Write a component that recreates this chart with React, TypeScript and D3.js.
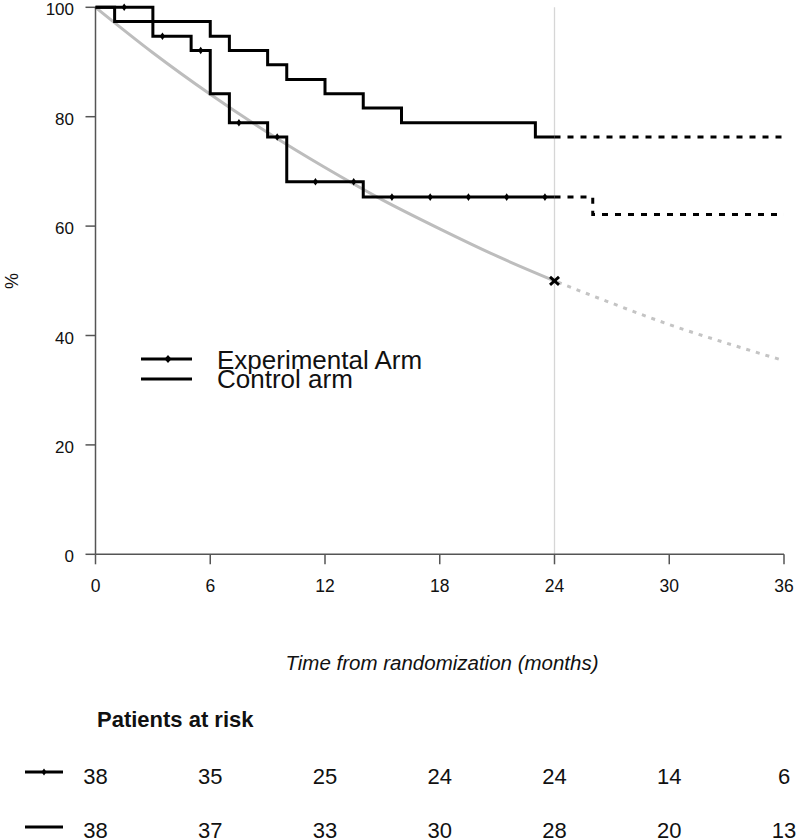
import React from "react";
import * as d3 from "d3";

// ---- Data ----
const xTicks = [0, 6, 12, 18, 24, 30, 36];
const yTicks = [0, 20, 40, 60, 80, 100];

// Control arm KM steps (observed to 24 months)
const controlTimes = [0, 1, 6, 7, 9, 10, 12, 14, 16, 23];
const controlSurv = [100, 97.4, 94.7, 92.1, 89.5, 86.8, 84.2, 81.6, 78.9, 76.3];
// Control arm beyond 24 months (dashed)
const controlExtTimes = [24, 36];
const controlExtSurv = [76.3, 76.3];

// Experimental arm KM steps
const expTimes = [0, 3, 5, 6, 7, 9, 10, 14];
const expSurv = [100, 94.7, 92.1, 84.2, 78.9, 76.3, 68.1, 65.3];
const expExtTimes = [24, 26, 36];
const expExtSurv = [65.3, 62.1, 62.1];
const expCensorTimes = [1.5, 3.5, 5.5, 7.5, 9.5, 11.5, 13.5, 15.5, 17.5, 19.5, 21.5, 23.5];

// Reference (null hypothesis) curve
const refTimes = [0, 3, 6, 9, 12, 15, 18, 21, 24, 27, 30, 33, 36];
const refSurv = [100, 91.7, 84.1, 77.1, 70.7, 64.8, 59.5, 54.5, 50, 45.9, 42.0, 38.6, 35.4];
const refMarkTime = 24;
const refMarkSurv = 50;

// Patients at risk
const riskTimes = [0, 6, 12, 18, 24, 30, 36];
const riskExp = [38, 35, 25, 24, 24, 14, 6];
const riskCtrl = [38, 37, 33, 30, 28, 20, 13];

const legendLabels = ["Experimental Arm", "Control arm"];

const FONT = "'Liberation Sans', Arial, Helvetica, sans-serif";

export default function App() {
  const W = 797;
  const H = 839;
  const x = d3.scaleLinear().domain([0, 36]).range([95.5, 784]);
  const y = d3.scaleLinear().domain([0, 100]).range([554.3, 7.3]);

  const step = d3
    .line<[number, number]>()
    .x((d) => x(d[0]))
    .y((d) => y(d[1]))
    .curve(d3.curveStepAfter);
  const smooth = d3
    .line<[number, number]>()
    .x((d) => x(d[0]))
    .y((d) => y(d[1]))
    .curve(d3.curveMonotoneX);

  const ctrlPts: [number, number][] = controlTimes.map((t, i) => [t, controlSurv[i]]);
  ctrlPts.push([24, controlSurv[controlSurv.length - 1]]);
  const ctrlExt: [number, number][] = controlExtTimes.map((t, i) => [t, controlExtSurv[i]]);

  const expPts: [number, number][] = expTimes.map((t, i) => [t, expSurv[i]]);
  expPts.push([24, expSurv[expSurv.length - 1]]);
  const expExt: [number, number][] = expExtTimes.map((t, i) => [t, expExtSurv[i]]);

  const survAt = (t: number) => {
    let s = expSurv[0];
    for (let i = 0; i < expTimes.length; i++) if (expTimes[i] <= t) s = expSurv[i];
    return s;
  };

  const refSolid: [number, number][] = refTimes
    .map((t, i) => [t, refSurv[i]] as [number, number])
    .filter((d) => d[0] <= 24);
  const refAll: [number, number][] = refTimes.map((t, i) => [t, refSurv[i]] as [number, number]);

  const diamond = (cx: number, cy: number, hw: number, hh: number) =>
    `M${cx},${cy - hh}L${cx + hw},${cy}L${cx},${cy + hh}L${cx - hw},${cy}Z`;

  const mx = x(refMarkTime);
  const my = y(refMarkSurv);

  const axisColor = "#555";

  return (
    <svg
      width={W}
      height={H}
      style={{ position: "absolute", left: 0, top: 0, background: "#fff" }}
      fontFamily={FONT}
    >
      <rect x={0} y={0} width={W} height={H} fill="#fff" />
      {/* vertical reference line at 24 months */}
      <line x1={x(24)} x2={x(24)} y1={y(100)} y2={y(0)} stroke="#d6d6d6" strokeWidth={1.3} />

      {/* reference curve: solid to 24, dotted beyond */}
      <clipPath id="after24">
        <rect x={x(24)} y={0} width={W} height={H} />
      </clipPath>
      <path d={smooth(refSolid) || ""} fill="none" stroke="#bdbdbd" strokeWidth={3} />
      <path
        d={smooth(refAll) || ""}
        fill="none"
        stroke="#c4c4c4"
        strokeWidth={3}
        strokeDasharray="4 6"
        clipPath="url(#after24)"
      />

      {/* axes */}
      <line x1={x(0)} x2={x(36)} y1={y(0)} y2={y(0)} stroke={axisColor} strokeWidth={1.5} />
      <line x1={x(0)} x2={x(0)} y1={y(0)} y2={y(100)} stroke={axisColor} strokeWidth={1.5} />
      {xTicks.map((t) => (
        <g key={"xt" + t}>
          <line x1={x(t)} x2={x(t)} y1={y(0)} y2={y(0) + 10} stroke={axisColor} strokeWidth={1.5} />
          <text x={x(t)} y={591.5} textAnchor="middle" fontSize={17.5} fill="#111">
            {t}
          </text>
        </g>
      ))}
      {yTicks.map((t) => (
        <g key={"yt" + t}>
          <line x1={x(0) - 10} x2={x(0)} y1={y(t)} y2={y(t)} stroke={axisColor} strokeWidth={1.5} />
          <text x={74} y={y(t) + 8} textAnchor="end" fontSize={17} fill="#111">
            {t}
          </text>
        </g>
      ))}
      <text
        transform={`translate(18,281) rotate(-90)`}
        textAnchor="middle"
        fontSize={18}
        fill="#111"
      >
        %
      </text>
      <text x={442} y={670} textAnchor="middle" fontSize={20.5} fontStyle="italic" fill="#111">
        Time from randomization (months)
      </text>

      {/* KM curves */}
      <path d={step(ctrlPts) || ""} fill="none" stroke="#000" strokeWidth={3} />
      <path d={step(ctrlExt) || ""} fill="none" stroke="#000" strokeWidth={3} strokeDasharray="6 7" />
      <path d={step(expPts) || ""} fill="none" stroke="#000" strokeWidth={3} />
      <path d={step(expExt) || ""} fill="none" stroke="#000" strokeWidth={3} strokeDasharray="6 7" />
      {expCensorTimes.map((t) => (
        <path key={"c" + t} d={diamond(x(t), y(survAt(t)), 2.6, 3.8)} fill="#000" />
      ))}

      {/* reference mark at median */}
      <g stroke="#000" strokeWidth={3}>
        <line x1={mx - 4.5} x2={mx + 4.5} y1={my - 4} y2={my + 4} />
        <line x1={mx - 4.5} x2={mx + 4.5} y1={my + 4} y2={my - 4} />
      </g>

      {/* legend */}
      <line x1={141} x2={192} y1={359} y2={359} stroke="#000" strokeWidth={3} />
      <path d={diamond(168, 359, 3.5, 4)} fill="#000" />
      <line x1={141} x2={192} y1={379} y2={379} stroke="#000" strokeWidth={3} />
      <text x={217} y={369} fontSize={26} fill="#111">
        {legendLabels[0]}
      </text>
      <text x={217} y={387.5} fontSize={26} fill="#111">
        {legendLabels[1]}
      </text>

      {/* patients at risk */}
      <text x={97} y={727} fontSize={22} fontWeight="bold" fill="#111">
        Patients at risk
      </text>
      <line x1={25} x2={63} y1={772} y2={772} stroke="#000" strokeWidth={3} />
      <path d={diamond(44, 772, 2.5, 3.5)} fill="#000" />
      <line x1={25} x2={63} y1={827} y2={827} stroke="#000" strokeWidth={3} />
      {riskTimes.map((t, i) => (
        <g key={"r" + t}>
          <text x={x(t)} y={783.5} textAnchor="middle" fontSize={22} fill="#111">
            {riskExp[i]}
          </text>
          <text x={x(t)} y={838} textAnchor="middle" fontSize={22} fill="#111">
            {riskCtrl[i]}
          </text>
        </g>
      ))}
    </svg>
  );
}
